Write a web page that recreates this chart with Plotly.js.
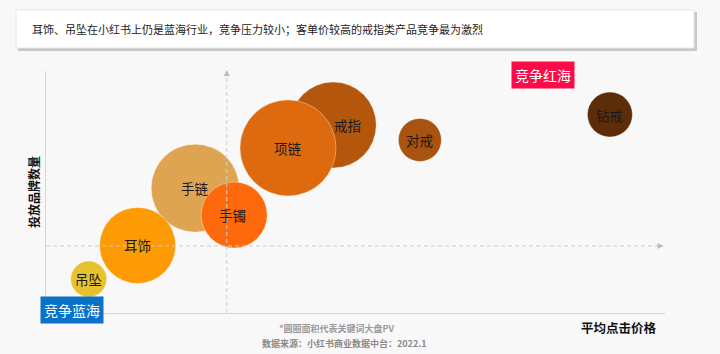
<!DOCTYPE html>
<html>
<head>
<meta charset="utf-8">
<script src="https://cdn.plot.ly/plotly-3.0.1.min.js"></script>
<style>
  html, body { margin: 0; padding: 0; background: #f8f8f8; }
  #chart { width: 720px; height: 354px; }
</style>
</head>
<body>
<div id="chart"></div>
<script>
// ---- data (indexed values) ----
const categories = ['吊坠', '手链', '耳饰', '手镯', '戒指', '项链', '对戒', '钻戒'];
const avgClickPrice = [6.9, 24.1, 14.8, 30.4, 46.4, 39.1, 60.4, 91.1];   // x index
const brandCount    = [14.0, 51.6, 27.9, 40.5, 77.7, 68.2, 71.5, 82.0];  // y index
const keywordPV     = [324, 1936, 1444, 1089, 1849, 2304, 462, 506];     // bubble area
const colors = ['#E8C22C', '#DFA452', '#FD9B05', '#FE6A0B', '#B4560B', '#DE6A10', '#A8530F', '#5D2D0A'];
const labelShift = [0, 0, 0, -2, 14, 0, 0, 0];

const midX = 29.2;   // vertical reference (dashed)
const midY = 27.7;   // horizontal reference (dashed)

const titleText = '耳饰、吊坠在小红书上仍是蓝海行业，竞争压力较小；客单价较高的戒指类产品竞争最为激烈';
const xTitle = '平均点击价格';
const yTitle = '投放品牌数量';
const note1 = '*圆圈面积代表关键词大盘PV';
const note2 = '数据来源：小红书商业数据中台：2022.1';
const redTag = '竞争红海';
const blueTag = '竞争蓝海';

// ---- layout helpers (pixel -> paper) ----
const L = 46, R = 55, T = 71, B = 41, W = 720, H = 354;
const pw = W - L - R, ph = H - T - B;
const px = v => (v - L) / pw;
const py = v => (H - B - v) / ph;

const FONT = '"Noto Sans CJK SC", "Noto Sans", sans-serif';

const trace = {
  type: 'scatter',
  mode: 'markers',
  x: avgClickPrice,
  y: brandCount,
  text: categories,
  hoverinfo: 'text',
  cliponaxis: false,
  marker: {
    size: keywordPV,
    sizemode: 'area',
    sizeref: 0.5,
    color: colors,
    opacity: 1,
    line: { width: 1, color: 'rgba(255,255,255,0.35)' }
  }
};

const annotations = [];
categories.forEach((c, i) => {
  annotations.push({
    x: avgClickPrice[i], y: brandCount[i], xref: 'x', yref: 'y',
    text: c, showarrow: false, xshift: labelShift[i],
    font: { family: FONT, size: 13.5, color: '#1a1a1a' }
  });
});

// arrowheads at ends of dashed reference lines
annotations.push({
  x: 99.8, y: midY, ax: 98.5, ay: midY, xref: 'x', yref: 'y', axref: 'x', ayref: 'y',
  showarrow: true, arrowhead: 2, arrowsize: 1, arrowwidth: 1.2, arrowcolor: '#bdbdbd', text: ''
});
annotations.push({
  x: midX, y: 100.4, ax: midX, ay: 98.5, xref: 'x', yref: 'y', axref: 'x', ayref: 'y',
  showarrow: true, arrowhead: 2, arrowsize: 1, arrowwidth: 1.2, arrowcolor: '#bdbdbd', text: ''
});

// title text
annotations.push({
  x: px(30), y: py(29), xref: 'paper', yref: 'paper', xanchor: 'left', yanchor: 'middle',
  text: titleText, showarrow: false,
  font: { family: FONT, size: 11, color: '#222' }
});
// tags
annotations.push({
  x: px(542.5), y: py(74.5), xref: 'paper', yref: 'paper', xanchor: 'center', yanchor: 'middle',
  text: redTag, showarrow: false, bgcolor: '#FF0A48', borderpad: 3,
  font: { family: FONT, size: 14, color: '#ffffff' }
});
annotations.push({
  x: px(72), y: py(309.5), xref: 'paper', yref: 'paper', xanchor: 'center', yanchor: 'middle',
  text: blueTag, showarrow: false, bgcolor: '#0A72C6', borderpad: 3,
  font: { family: FONT, size: 14, color: '#ffffff' }
});
// axis titles
annotations.push({
  x: px(619), y: py(327), xref: 'paper', yref: 'paper', xanchor: 'center', yanchor: 'middle',
  text: '<b>' + xTitle + '</b>', showarrow: false,
  font: { family: FONT, size: 12.5, color: '#111' }
});
annotations.push({
  x: px(33), y: py(192), xref: 'paper', yref: 'paper', xanchor: 'center', yanchor: 'middle',
  text: '<b>' + yTitle + '</b>', showarrow: false, textangle: -90,
  font: { family: FONT, size: 12, color: '#111' }
});
// notes
annotations.push({
  x: px(337), y: py(328), xref: 'paper', yref: 'paper', xanchor: 'center', yanchor: 'middle',
  text: '<b>' + note1 + '</b>', showarrow: false,
  font: { family: FONT, size: 9, color: '#9a9a9a' }
});
annotations.push({
  x: px(344), y: py(343), xref: 'paper', yref: 'paper', xanchor: 'center', yanchor: 'middle',
  text: '<b>' + note2 + '</b>', showarrow: false,
  font: { family: FONT, size: 9, color: '#8a8a8a' }
});

const shapes = [
  // title box shadow + box
  { type: 'rect', xref: 'paper', yref: 'paper', layer: 'below',
    x0: px(18), x1: px(697), y0: py(12), y1: py(51),
    fillcolor: '#c8c8c8', line: { width: 0 } },
  { type: 'rect', xref: 'paper', yref: 'paper', layer: 'below',
    x0: px(16), x1: px(694), y0: py(10), y1: py(48),
    fillcolor: '#ffffff', line: { width: 1, color: '#e6e6e6' } },
  // dashed reference lines
  { type: 'line', xref: 'x', yref: 'y', layer: 'above',
    x0: 0, x1: 99.5, y0: midY, y1: midY,
    line: { color: '#cfcfcf', width: 1, dash: '4px,3px' } },
  { type: 'line', xref: 'x', yref: 'y', layer: 'above',
    x0: midX, x1: midX, y0: 0, y1: 99.5,
    line: { color: '#cfcfcf', width: 1, dash: '4px,3px' } }
];

const layout = {
  width: W, height: H,
  margin: { l: L, r: R, t: T, b: B, pad: 0 },
  paper_bgcolor: '#f8f8f8',
  plot_bgcolor: '#f8f8f8',
  showlegend: false,
  font: { family: FONT },
  xaxis: {
    range: [0, 100], showgrid: false, zeroline: false, showticklabels: false, ticks: '',
    showline: true, linecolor: '#d6d6d6', linewidth: 1, fixedrange: true
  },
  yaxis: {
    range: [0, 100], showgrid: false, zeroline: false, showticklabels: false, ticks: '',
    showline: true, linecolor: '#d6d6d6', linewidth: 1, fixedrange: true
  },
  shapes: shapes,
  annotations: annotations
};

Plotly.newPlot('chart', [trace], layout, { displayModeBar: false, staticPlot: true });
</script>
</body>
</html>
